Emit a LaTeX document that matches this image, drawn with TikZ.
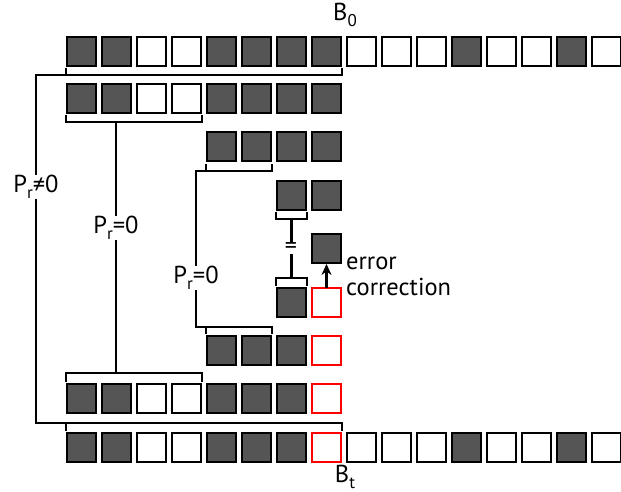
\documentclass[tikz,border=0pt]{standalone}
\usepackage{fontspec}
\setmainfont{PT Sans}
\usetikzlibrary{arrows.meta,calc}
\definecolor{darksq}{RGB}{85,85,85}
\tikzset{
  sq/.style={draw=black, line width=2.4pt, minimum size=28.6pt, inner sep=0pt, fill=#1},
  sq/.default=white,
  redsq/.style={draw=red, line width=2.2pt, minimum size=28.6pt, inner sep=0pt, fill=white},
  br/.style={line width=2.6pt, line cap=rect},
  lbl/.style={font=\fontsize{24.5}{28}\selectfont, inner sep=1pt, fill=white},
}
\newcommand{\sub}[1]{\raisebox{-0.45ex}{\fontsize{17}{19}\selectfont #1}}
\begin{document}
\begin{tikzpicture}[x=1pt,y=-1pt]
\useasboundingbox (0,0) rectangle (621,492);
% row 1 (B0) and row 9 (Bt): 16 squares
\foreach \i/\c in {1/darksq,2/darksq,3/white,4/white,5/darksq,6/darksq,7/darksq,8/darksq,9/white,10/white,11/white,12/darksq,13/white,14/white,15/darksq,16/white}{
  \node[sq=\c] (r1c\i) at ({81.5+35*(\i-1)},51.5) {};
}
\foreach \i/\c in {1/darksq,2/darksq,3/white,4/white,5/darksq,6/darksq,7/darksq,9/white,10/white,11/white,12/darksq,13/white,14/white,15/darksq,16/white}{
  \node[sq=\c] (r9c\i) at ({81.5+35*(\i-1)},447.5) {};
}
\node[redsq] (r9c8) at ({81.5+35*7},447.5) {};
% row 2
\foreach \i/\c in {1/darksq,2/darksq,3/white,4/white,5/darksq,6/darksq,7/darksq,8/darksq}{
  \node[sq=\c] (r2c\i) at ({81.5+35*(\i-1)},98.5) {};
}
% row 3
\foreach \i in {5,6,7,8}{
  \node[sq=darksq] (r3c\i) at ({81.5+35*(\i-1)},146.5) {};
}
% row 4
\foreach \i in {7,8}{
  \node[sq=darksq] (r4c\i) at ({81.5+35*(\i-1)},195.5) {};
}
% row 5
\node[sq=darksq] (r5c8) at ({81.5+35*7},248.5) {};
% row 6
\node[sq=darksq] (r6c7) at ({81.5+35*6},302.5) {};
\node[redsq] (r6c8) at ({81.5+35*7},302.5) {};
% row 7
\foreach \i in {5,6,7}{
  \node[sq=darksq] (r7c\i) at ({81.5+35*(\i-1)},350.5) {};
}
\node[redsq] (r7c8) at ({81.5+35*7},350.5) {};
% row 8
\foreach \i/\c in {1/darksq,2/darksq,3/white,4/white,5/darksq,6/darksq,7/darksq}{
  \node[sq=\c] (r8c\i) at ({81.5+35*(\i-1)},398.5) {};
}
\node[redsq] (r8c8) at ({81.5+35*7},398.5) {};

% labels
\node[lbl, fill=none] (b0) at (345,15) {B\sub{0}};
\node[lbl, fill=none] (bt) at (345,477) {B\sub{t}};

% bracket 1 (all 8, below row 1) -> above row 9
\draw[br] ([yshift=-2pt]r1c1.south west) -- ++(0,6) coordinate (b1l) -| ([yshift=-2pt]r1c8.south east);
\draw[br] ([yshift=2pt]r9c1.north west) -- ++(0,-7) coordinate (b9l) -| ([yshift=2pt]r9c8.north east);
\coordinate (c1a) at (36,0);
\draw[br] (b1l) -- (b1l -| c1a) -- (b9l -| c1a) -- (b9l);
\node[lbl] (p1) at (36,187) {P\sub{r}≠0};

% bracket 2 (squares 1-4 below row 2) -> above row 8
\draw[br] ([yshift=-2pt]r2c1.south west) -- ++(0,6) -| ([yshift=-2pt]r2c4.south east);
\draw[br] ([yshift=2pt]r8c1.north west) -- ++(0,-8) -| ([yshift=2pt]r8c4.north east);
\coordinate (c2a) at (116,0);
\draw[br] ([yshift=-8pt]r2c1.south west -| c2a) -- ([yshift=10pt]r8c1.north west -| c2a);
\node[lbl] (p2) at (116,228) {P\sub{r}=0};

% bracket 3 (squares 5-6 below row 3) -> above row 7
\draw[br] ([yshift=-3pt]r3c5.south west) -- ++(0,6) coordinate (b3l) -| ([yshift=-3pt]r3c6.south east);
\draw[br] ([yshift=2pt]r7c5.north west) -- ++(0,-6) coordinate (b7l) -| ([yshift=2pt]r7c6.north east);
\coordinate (c3a) at (196,0);
\draw[br] (b3l) -- (b3l -| c3a) -- (b7l -| c3a) -- (b7l);
\node[lbl] (p3) at (196,278) {P\sub{r}=0};

% bracket 4 (square 7 below row 4) -> above row 6
\draw[br] ([yshift=-2pt]r4c7.south west) -- ++(0,6) -| ([yshift=-2pt]r4c7.south east);
\draw[br] ([yshift=2pt]r6c7.north west) -- ++(0,-7) -| ([yshift=2pt]r6c7.north east);
\draw[br] ([yshift=-8pt]r4c7.south) -- ([yshift=9pt]r6c7.north);
\node[font=\fontsize{24}{26}\selectfont, fill=white, inner sep=0.5pt] (eq) at (291,248) {=};

% error correction arrow
\draw[line width=2.4pt, -{Stealth[length=11pt,width=10pt]}] ([yshift=-1pt]r6c8.north) -- (r5c8.south);
\node[font=\fontsize{24.5}{26}\selectfont, anchor=west, align=left, inner sep=0pt] (ec) at (346,276) {error\\correction};
\end{tikzpicture}
\end{document}
